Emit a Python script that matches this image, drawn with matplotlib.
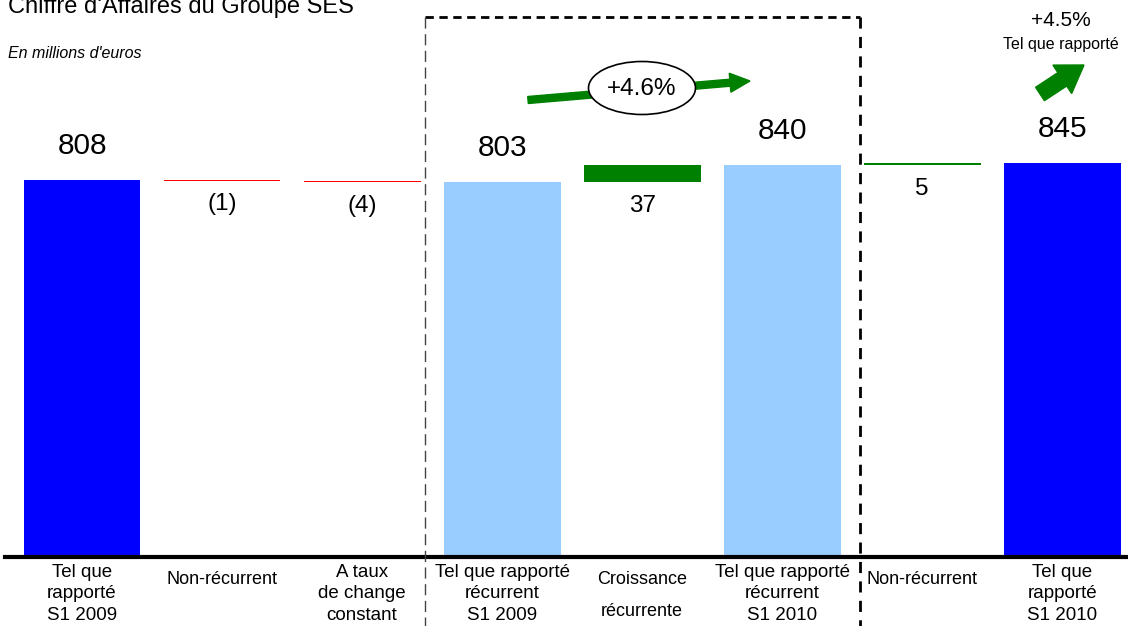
import matplotlib.pyplot as plt
from matplotlib import patches, transforms
from matplotlib.lines import Line2D

plt.rcParams['font.family'] = ['Liberation Sans', 'DejaVu Sans']

categories = ['Tel que\nrapporté\nS1 2009', 'Non-récurrent', 'A taux\nde change\nconstant',
              'Tel que rapporté\nrécurrent\nS1 2009', 'Croissance\n\nrécurrente',
              'Tel que rapporté\nrécurrent\nS1 2010', 'Non-récurrent', 'Tel que\nrapporté\nS1 2010']
values = [808, -1, -4, 803, 37, 840, 5, 845]
kinds = ['total', 'delta', 'delta', 'sub', 'delta', 'sub', 'delta', 'total']
labels = ['808', '(1)', '(4)', '803', '37', '840', '5', '845']

colors = {'total': '#0000ff', 'sub': '#99ccff'}

W, H = 1128, 626
fig = plt.figure(figsize=(W / 100, H / 100), dpi=100)
ax = fig.add_axes([5 / W, 69 / H, 1 - 5 / W, 557 / H])
# pixel coordinates, origin top-left
px = transforms.Affine2D().scale(1 / 100, -1 / 100).translate(0, H / 100) + fig.dpi_scale_trans

running = 0
for i, (v, k, lab) in enumerate(zip(values, kinds, labels)):
    if k == 'delta':
        bottom = running if v > 0 else running + v
        col = '#008000' if v > 0 else '#ff0000'
        ax.bar(i, abs(v), bottom=bottom, width=0.835, color=col, linewidth=0)
        running += v
        ax.annotate(lab, (i, bottom), xytext=(0, -17), textcoords='offset points',
                    ha='center', va='center', fontsize=17.5)
    else:
        running = v
        ax.bar(i, v, width=0.835, color=colors[k], linewidth=0)
        ax.annotate(lab, (i, v), xytext=(0, 24.5), textcoords='offset points',
                    ha='center', va='center', fontsize=21.5)

ax.axhline(0, color='black', lw=3, clip_on=False)
ax.set_xlim(-0.55, 7.47)
ax.set_ylim(0, 1194)
ax.axis('off')

# category labels under the baseline
xt = transforms.blended_transform_factory(ax.transData, fig.transFigure)
for i, c in enumerate(categories):
    if c.startswith('Croissance'):
        ax.text(i, 1 - 580 / H, 'Croissance', transform=xt, ha='center', va='center', fontsize=13)
        ax.text(i, 1 - 612 / H, 'récurrente', transform=xt, ha='center', va='center', fontsize=13)
    elif c == 'Non-récurrent':
        ax.text(i, 1 - 580 / H, c, transform=xt, ha='center', va='center', fontsize=13)
    else:
        ax.text(i, 1 - 594 / H, c, transform=xt, ha='center', va='center', fontsize=13.5,
                linespacing=1.38)

# titles
fig.text(8 / W, 1 - 13 / H, "Chiffre d'Affaires du Groupe SES", fontsize=17, va='baseline')
fig.text(8 / W, 1 - 54 / H, "En millions d'euros", fontsize=11.5, style='italic', va='center')

# dashed box
fig.add_artist(Line2D([425, 860], [17, 17], transform=px, color='black', lw=2, ls=(0, (3, 2))))
fig.add_artist(Line2D([425, 425], [17, 626], transform=px, color='#444444', lw=1, ls=(0, (8, 4))))
fig.add_artist(Line2D([860, 860], [17, 626], transform=px, color='black', lw=2, ls=(0, (4, 3))))

# growth arrow with ellipse
fig.add_artist(patches.FancyArrow(528, 100, 222, -19, width=7, head_width=19, head_length=20,
                                  length_includes_head=True, color='#008000', transform=px))
fig.add_artist(patches.Ellipse((642, 88), 107, 53, facecolor='white', edgecolor='black', lw=1.2,
                               transform=px))
fig.text(642 / W, 1 - 89 / H, '+4.6%', ha='center', va='center', fontsize=17.5)

# reported growth arrow
fig.add_artist(patches.FancyArrow(1040, 94, 44, -29, width=16, head_width=34, head_length=26,
                                  length_includes_head=True, color='#008000', transform=px))
fig.text(1061 / W, 1 - 21 / H, '+4.5%', ha='center', va='center', fontsize=15)
fig.text(1061 / W, 1 - 45 / H, 'Tel que rapporté', ha='center', va='center', fontsize=11.5)

fig.savefig('out.png', dpi=100)
